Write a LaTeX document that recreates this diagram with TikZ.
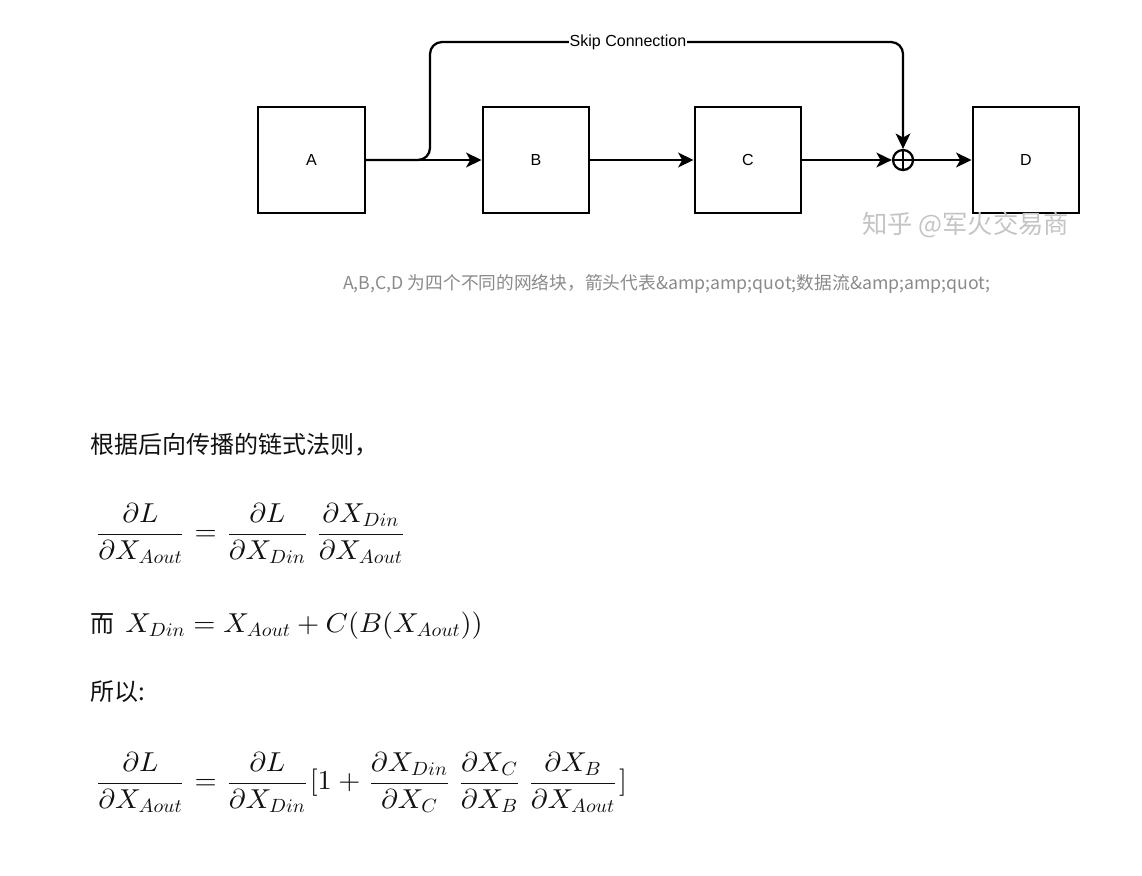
\documentclass[tikz,border=0pt]{standalone}
\usepackage{fontspec}
\usepackage{graphicx}
\DeclareFontShape{OML}{cmm}{m}{it}{<->cmmi10}{}
\DeclareFontShape{OT1}{cmr}{m}{n}{<->cmr10}{}
\newfontfamily\cjk{Noto Sans CJK SC}
\newfontfamily\arial{Liberation Sans}
\usetikzlibrary{arrows.meta}
\definecolor{ink}{HTML}{111111}
\definecolor{capgray}{HTML}{8A8A8A}
\definecolor{wmgray}{HTML}{C4C4C4}
\newcommand{\wideeq}[1]{\scalebox{1.04}[1]{$\nulldelimiterspace=3pt\displaystyle #1$}}
\begin{document}
\begin{tikzpicture}[x=0.75pt,y=-0.75pt,
  blk/.style={draw,line width=1.7pt,minimum width=80pt,minimum height=79.5pt,inner sep=0pt,
    font=\arial\fontsize{12}{14}\selectfont},
  flow/.style={line width=1.7pt,-{Stealth[length=11.5pt,width=11pt,inset=3pt]}},
  txt/.style={anchor=base west,inner sep=0pt,font=\cjk\fontsize{18}{21}\selectfont,text=ink},
  eq/.style={anchor=base west,inner sep=0pt,font=\fontsize{20.5}{24}\selectfont,text=ink}]
\useasboundingbox (0,0) rectangle (1142,875);
% blocks
\node[blk] (A) at (311.5,160) {A};
\node[blk] (B) at (536,160) {B};
\node[blk] (C) at (748,160) {C};
\node[blk] (D) at (1026,160) {D};
\node[draw,circle,line width=1.7pt,minimum size=15pt,inner sep=0pt] (P) at (903,160) {};
\draw[line width=1.7pt] (P.north) -- (P.south) (P.west) -- (P.east);
% connectors
\draw[flow] (A) -- (B);
\draw[flow] (B) -- (C);
\draw[flow] (C) -- (P);
\draw[flow] (P) -- (D);
\coordinate (s1) at (430,42);
\draw[flow,rounded corners=9pt] (A.east) -| (s1) -| (P.north);
\node[fill=white,inner sep=0.5pt,font=\arial\fontsize{12}{14}\selectfont] (lbl) at (628,42) {Skip Connection};
% watermark
\node[anchor=west,inner sep=0pt,font=\cjk\fontsize{19}{22}\selectfont,text=wmgray] (wm) at (862,225) {知乎 @军火交易商};
% caption
\node[inner sep=0pt,font=\cjk\fontsize{13.3}{16}\selectfont,text=capgray] (cap) at (667,284)
  {A,B,C,D 为四个不同的网络块，箭头代表\&amp;amp;quot;数据流\&amp;amp;quot;};
% text and equations
\node[txt] (t1) at (90,453) {根据后向传播的链式法则，};
\node[eq] (e1) at (94,540.8) {\wideeq{\frac{\partial L}{\partial X_{Aout}} = \frac{\partial L}{\partial X_{Din}}\,\frac{\partial X_{Din}}{\partial X_{Aout}}}};
\node[txt] (t2) at (90,632) {而};
\node[eq] (e2) at (125,632) {\wideeq{X_{Din} = X_{Aout} + C(B(X_{Aout}))}};
\node[txt] (t3) at (90,700) {所以:};
\node[eq] (e3) at (94,789.8) {\wideeq{\frac{\partial L}{\partial X_{Aout}} = \frac{\partial L}{\partial X_{Din}}[1+\frac{\partial X_{Din}}{\partial X_{C}}\,\frac{\partial X_{C}}{\partial X_{B}}\,\frac{\partial X_{B}}{\partial X_{Aout}}]}};
\end{tikzpicture}
\end{document}
